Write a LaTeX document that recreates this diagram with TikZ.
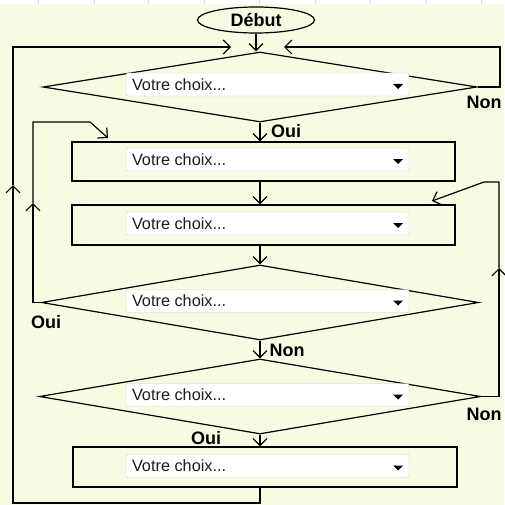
\documentclass[tikz,border=0pt]{standalone}
\usepackage{fontspec}
\setmainfont{Liberation Sans}
\usepackage{tikz}
\usetikzlibrary{positioning,shapes,arrows.meta}
\definecolor{fond}{RGB}{246,252,226}
\definecolor{grille}{RGB}{214,218,242}
\definecolor{bordcombo}{RGB}{204,204,204}
\definecolor{texte}{RGB}{30,30,30}

\begin{document}
\begin{tikzpicture}[x=1pt,y=-1pt,
  fleche/.style={line width=1.2pt,-{Straight Barb[length=7pt,width=14pt]}},
  losange/.style={draw,line width=1.2pt,diamond,inner sep=0pt},
  boite/.style={draw,line width=1.2pt,rectangle,inner sep=0pt},
  combo/.style={draw=bordcombo,fill=white,rounded corners=2pt,minimum width=283pt,minimum height=23pt,inner sep=0pt},
  etiq/.style={font=\fontsize{18}{20}\selectfont\bfseries,inner sep=0pt},
  choix/.style={font=\fontsize{16.3}{18}\selectfont,text=texte,anchor=west,inner sep=0pt}]
\useasboundingbox (0,0) rectangle (504,505);
\fill[fond] (0,0) rectangle (504,505);
\fill[white] (0,0) rectangle (504,4);
\foreach \gx in {38,94,148,204,259,315,370,426,481}
  \draw[grille] (\gx,0) -- (\gx,4);

% les formes
\node[draw,ellipse,line width=1.2pt,minimum width=117pt,minimum height=26pt,inner sep=0pt,etiq] (debut) at (256,20) {Début};
\node[losange,minimum width=434pt,minimum height=70pt] (q1) at (260,87) {};
\node[boite,minimum width=383pt,minimum height=39pt] (a1) at (263.5,161.5) {};
\node[boite,minimum width=383pt,minimum height=40pt] (a2) at (263.5,225) {};
\node[losange,minimum width=437pt,minimum height=75pt] (q2) at (260,302.5) {};
\node[losange,minimum width=441pt,minimum height=75pt] (q3) at (260,396.5) {};
\node[boite,minimum width=384pt,minimum height=40pt] (a3) at (265,467) {};

% les listes
\node[combo] (c1) at (267.5,84.5) {};
\node[choix] (t1) at ([xshift=6pt]c1.west) {Votre choix...};
\fill ([xshift=-16pt,yshift=0.5pt]c1.east) -- ++(10,0) -- ++(-5,5) -- cycle;
\node[combo] (c2) at (267.5,159.5) {};
\node[choix] (t2) at ([xshift=6pt]c2.west) {Votre choix...};
\fill ([xshift=-16pt,yshift=0.5pt]c2.east) -- ++(10,0) -- ++(-5,5) -- cycle;
\node[combo] (c3) at (267.5,223.5) {};
\node[choix] (t3) at ([xshift=6pt]c3.west) {Votre choix...};
\fill ([xshift=-16pt,yshift=0.5pt]c3.east) -- ++(10,0) -- ++(-5,5) -- cycle;
\node[combo] (c4) at (267.5,301) {};
\node[choix] (t4) at ([xshift=6pt]c4.west) {Votre choix...};
\fill ([xshift=-16pt,yshift=0.5pt]c4.east) -- ++(10,0) -- ++(-5,5) -- cycle;
\node[combo] (c5) at (267.5,395) {};
\node[choix] (t5) at ([xshift=6pt]c5.west) {Votre choix...};
\fill ([xshift=-16pt,yshift=0.5pt]c5.east) -- ++(10,0) -- ++(-5,5) -- cycle;
\node[combo] (c6) at (267.5,466) {};
\node[choix] (t6) at ([xshift=6pt]c6.west) {Votre choix...};
\fill ([xshift=-16pt,yshift=0.5pt]c6.east) -- ++(10,0) -- ++(-5,5) -- cycle;

% les points de passage
\coordinate (debutIn) at (231,47);
\coordinate (debutIn2) at (284,47);
\coordinate (hd) at (500,47);
\coordinate (bg) at (13,503);
\coordinate (bgMid) at (13,185);
\coordinate (gMid) at (33,203);
\coordinate (gCoin) at (90,122);
\coordinate (a1In) at (108,138);
\coordinate (dMid) at (499,268);
\coordinate (dCoin) at (484,182);
\coordinate (a2In) at (432,201);

% les fleches
\draw[fleche] (debut.south) -- (debut.south |- q1.north);
\draw[fleche] (q1.south) -- (q1.south |- a1.north);
\draw[fleche] (q1.south |- a1.south) -- (q1.south |- a2.north);
\draw[fleche] (q2.north |- a2.south) -- (q2.north);
\draw[fleche] (q2.south) -- (q3.north);
\draw[fleche] (q3.south) -- (q3.south |- a3.north);
\draw[fleche] (q1.east) -| (hd) -- (debutIn2);
\draw[fleche] (q3.south |- a3.south) |- (bg) -- (bgMid);
\draw[fleche] (bgMid) |- (debutIn);
\draw[fleche] (q2.west) -| (gMid);
\draw[fleche] (gMid) |- (gCoin) -- (a1In);
\draw[fleche] (q3.east) -| (dMid);
\draw[fleche] (dMid) |- (dCoin) -- (a2In);

% les etiquettes
\node[etiq] (non1) at (484,102) {Non};
\node[etiq] (oui1) at (286,131) {Oui};
\node[etiq] (oui2) at (46,322) {Oui};
\node[etiq] (non2) at (287,350) {Non};
\node[etiq] (non3) at (484,414) {Non};
\node[etiq] (oui3) at (206,438) {Oui};
\end{tikzpicture}
\end{document}
